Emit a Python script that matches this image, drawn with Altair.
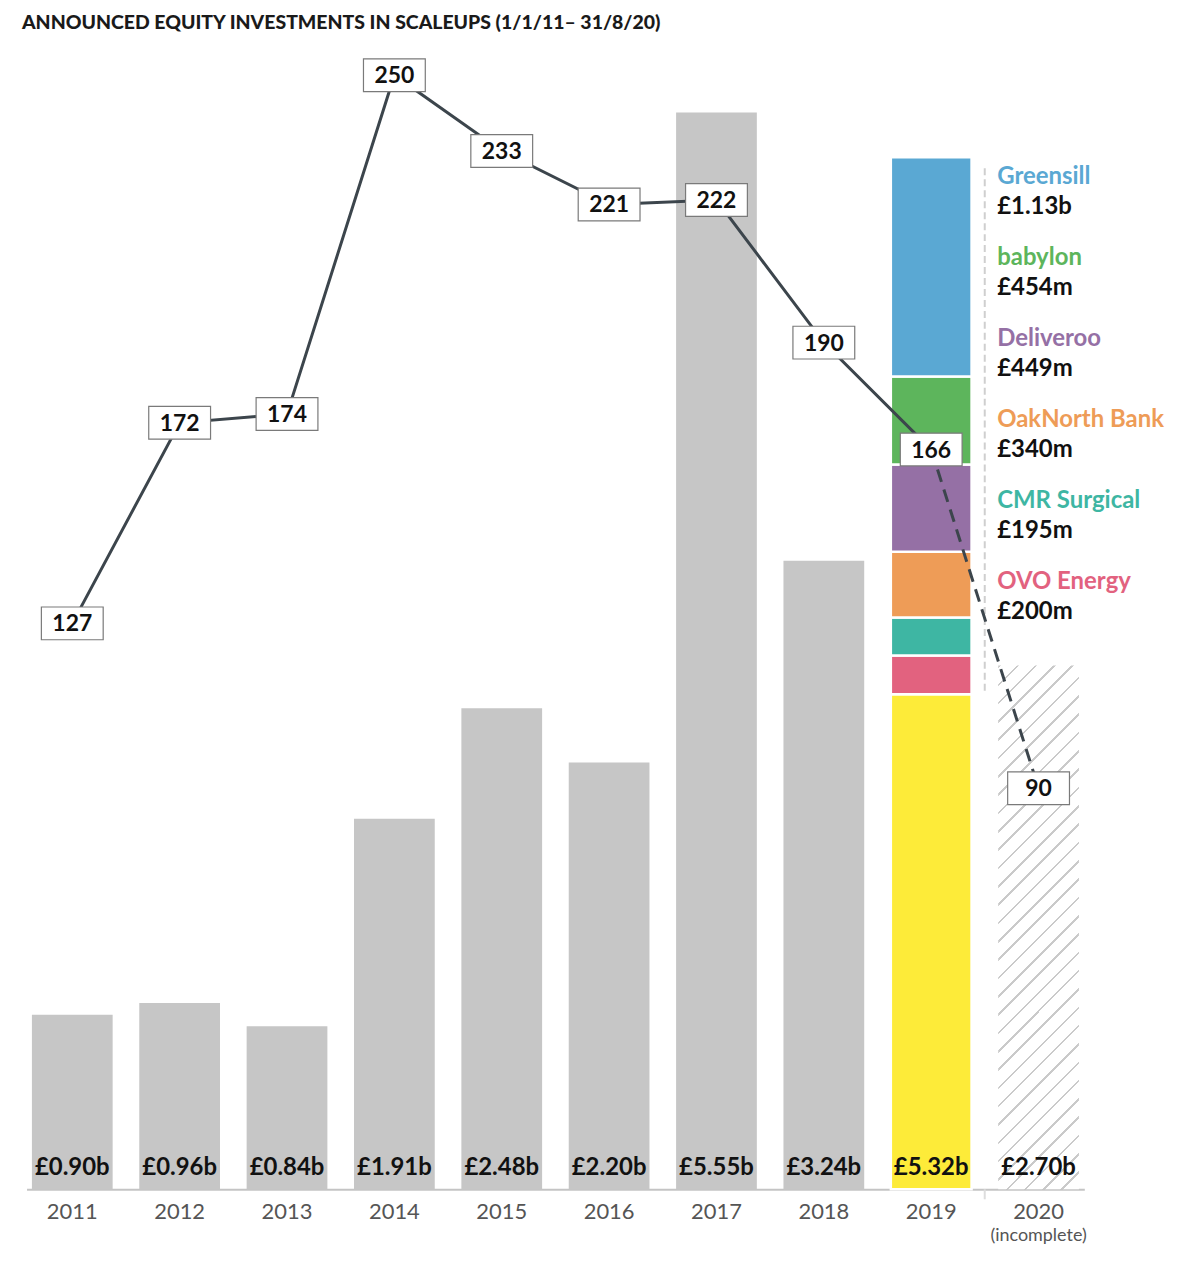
import altair as alt
import pandas as pd

# ---------------- data ----------------
years = ["2011", "2012", "2013", "2014", "2015", "2016", "2017", "2018", "2019", "2020"]
totals = [0.90, 0.96, 0.84, 1.91, 2.48, 2.20, 5.55, 3.24, 5.32, 2.70]
total_labels = ["£0.90b", "£0.96b", "£0.84b", "£1.91b", "£2.48b", "£2.20b",
                "£5.55b", "£3.24b", "£5.32b", "£2.70b"]
counts = [127, 172, 174, 250, 233, 221, 222, 190, 166, 90]

companies = ["Greensill", "babylon", "Deliveroo", "OakNorth Bank", "CMR Surgical", "OVO Energy"]
company_values = [1.13, 0.454, 0.449, 0.340, 0.195, 0.200]
company_labels = ["£1.13b", "£454m", "£449m", "£340m", "£195m", "£200m"]
company_colors = ["#5AA8D3", "#5DB55C", "#9570A5", "#EE9C57", "#3EB6A3", "#E2627F"]

GRAY = "#C6C6C6"
YELLOW = "#FDEB39"
LINE = "#3C454C"

# ---------------- layout ----------------
W, H = 1061, 1131
BAR_MAX = H / 194.6      # billions at top of plot
CNT_MAX = H / 4.47       # count at top of plot
bar_y = alt.Scale(domain=[0, BAR_MAX], nice=False, zero=True)
cnt_y = alt.Scale(domain=[0, CNT_MAX], nice=False, zero=True)
xscale = alt.Scale(domain=years, paddingInner=0.248, paddingOuter=0.05)
FONT = "Lato"

# ---------------- tables ----------------
gray_df = pd.DataFrame({"year": years[:8], "y0": [0.0] * 8, "y1": totals[:8],
                        "color": [GRAY] * 8})

rest_2019 = totals[8] - sum(company_values)
stack_rows = [{"year": "2019", "y0": 0.0, "y1": rest_2019, "color": YELLOW}]
acc = rest_2019
for name, v, c in reversed(list(zip(companies, company_values, company_colors))):
    stack_rows.append({"year": "2019", "y0": acc, "y1": acc + v, "color": c})
    acc += v
stack_df = pd.DataFrame(stack_rows)

hatch_df = pd.DataFrame({"year": [years[9]], "y0": [0.0], "y1": [totals[9]]})

labels_df = pd.DataFrame({"year": years, "label": total_labels, "base": [0.0] * len(years)})
counts_df = pd.DataFrame({"year": years, "count": counts})

top_name = 5.216
step = 0.4173
legend_df = pd.DataFrame({
    "year": ["2020"] * len(companies),
    "name": companies,
    "amount": company_labels,
    "color": company_colors,
    "ny": [top_name - i * step for i in range(len(companies))],
    "ay": [top_name - i * step - 0.154 for i in range(len(companies))],
})

divider_df = pd.DataFrame({"year": ["2020"], "a": [2.57], "b": [5.28]})

# hatch gradient (stripes "/" at 45 degrees in pixel space)
bw = 81.0
bh = totals[9] * 194.6
r = bw / bh
s = (r + 1) / (r * r + 1)
N = 33
frac = 0.14
HATCH = "#CACACA"
stops = []
for i in range(N):
    o0 = i / N
    o1 = (i + frac) / N
    stops += [alt.GradientStop(offset=round(o0, 5), color=HATCH),
              alt.GradientStop(offset=round(o1, 5), color=HATCH),
              alt.GradientStop(offset=round(o1, 5), color="#FFFFFF"),
              alt.GradientStop(offset=round((i + 1) / N, 5), color="#FFFFFF")]
hatch_fill = alt.LinearGradient(gradient="linear", stops=stops,
                                x1=0, y1=0, x2=r * s, y2=s)

xaxis = alt.Axis(title=None, labelFontSize=22, labelColor="#555555", labelFont=FONT,
                 domainColor="#C4C4C4", domainWidth=2, ticks=False, labelPadding=12,
                 labelAngle=0)


def X(band=None):
    if band is None:
        return alt.X("year:N", scale=xscale, axis=xaxis, sort=years)
    return alt.X("year:N", scale=xscale, axis=xaxis, sort=years, bandPosition=band)


gray_bars = alt.Chart(gray_df).mark_bar().encode(
    x=X(),
    y=alt.Y("y0:Q", scale=bar_y, axis=None),
    y2="y1:Q",
    color=alt.Color("color:N", scale=None),
)

stack_bars = alt.Chart(stack_df).mark_bar(stroke="white", strokeWidth=2.5).encode(
    x=X(),
    y=alt.Y("y0:Q", scale=bar_y, axis=None),
    y2="y1:Q",
    color=alt.Color("color:N", scale=None),
)

hatch_bar = alt.Chart(hatch_df).mark_bar(fill=hatch_fill).encode(
    x=X(),
    y=alt.Y("y0:Q", scale=bar_y, axis=None),
    y2="y1:Q",
)

value_text = alt.Chart(labels_df).mark_text(
    font=FONT, fontSize=24, fontWeight="bold", color="#111111",
    baseline="alphabetic", dy=-14,
).encode(
    x=X(),
    y=alt.Y("base:Q", scale=bar_y, axis=None),
    text="label:N",
)

divider = alt.Chart(divider_df).mark_rule(
    color="#CFCFCF", strokeWidth=2, strokeDash=[7, 4], xOffset=-13.5,
).encode(
    x=X(0),
    y=alt.Y("a:Q", scale=bar_y, axis=None),
    y2="b:Q",
)

divider_tick = alt.Chart(divider_df).mark_rule(
    color="#DDDDDD", strokeWidth=2, xOffset=-13.5,
).encode(
    x=X(0),
    y=alt.value(H),
    y2=alt.value(H + 10),
)

legend_names = alt.Chart(legend_df).mark_text(
    font=FONT, fontSize=24, fontWeight="bold", align="left", baseline="middle", dx=-1,
).encode(
    x=X(0),
    y=alt.Y("ny:Q", scale=bar_y, axis=None),
    text="name:N",
    color=alt.Color("color:N", scale=None),
)

legend_amounts = alt.Chart(legend_df).mark_text(
    font=FONT, fontSize=24, fontWeight="bold", align="left", baseline="middle", dx=-1,
    color="#111111",
).encode(
    x=X(0),
    y=alt.Y("ay:Q", scale=bar_y, axis=None),
    text="amount:N",
)

incomplete = alt.Chart(pd.DataFrame({"year": ["2020"], "t": ["(incomplete)"]})).mark_text(
    font=FONT, fontSize=18, color="#555555", baseline="middle",
).encode(
    x=X(),
    y=alt.value(H + 47),
    text="t:N",
)

solid_line = alt.Chart(counts_df[counts_df["year"] <= "2019"]).mark_line(
    color=LINE, strokeWidth=3,
).encode(
    x=X(),
    y=alt.Y("count:Q", scale=cnt_y, axis=None),
)

dashed_line = alt.Chart(counts_df[counts_df["year"] >= "2019"]).mark_line(
    color=LINE, strokeWidth=3, strokeDash=[13, 8],
).encode(
    x=X(),
    y=alt.Y("count:Q", scale=cnt_y, axis=None),
)

boxes = alt.Chart(counts_df).mark_point(
    shape="M-1,-0.53L1,-0.53L1,0.53L-1,0.53Z", size=62 * 62,
    filled=True, fill="white", stroke="#7A7A7A", strokeWidth=1.2, opacity=1,
).encode(
    x=X(),
    y=alt.Y("count:Q", scale=cnt_y, axis=None),
)

box_text = alt.Chart(counts_df).mark_text(
    font=FONT, fontSize=23, fontWeight="bold", color="#111111", baseline="middle", dy=1,
).encode(
    x=X(),
    y=alt.Y("count:Q", scale=cnt_y, axis=None),
    text="count:Q",
)

chart = alt.layer(
    gray_bars, stack_bars, hatch_bar, value_text, divider, divider_tick,
    legend_names, legend_amounts, incomplete,
    solid_line, dashed_line, boxes, box_text,
).resolve_scale(
    y="independent"
).properties(
    width=W, height=H,
    title=alt.Title("ANNOUNCED EQUITY INVESTMENTS IN SCALEUPS (1/1/11– 31/8/20)",
                    anchor="start", font=FONT, fontSize=19.5, fontWeight=900,
                    color="#1A1A1A", offset=23, dx=-4.6),
    autosize=alt.AutoSizeParams(type="none"),
    padding={"left": 18.6, "top": 52, "right": 100, "bottom": 90},
).configure_view(stroke=None)

chart.save("out.html", embed_options={"renderer": "svg", "actions": False})
